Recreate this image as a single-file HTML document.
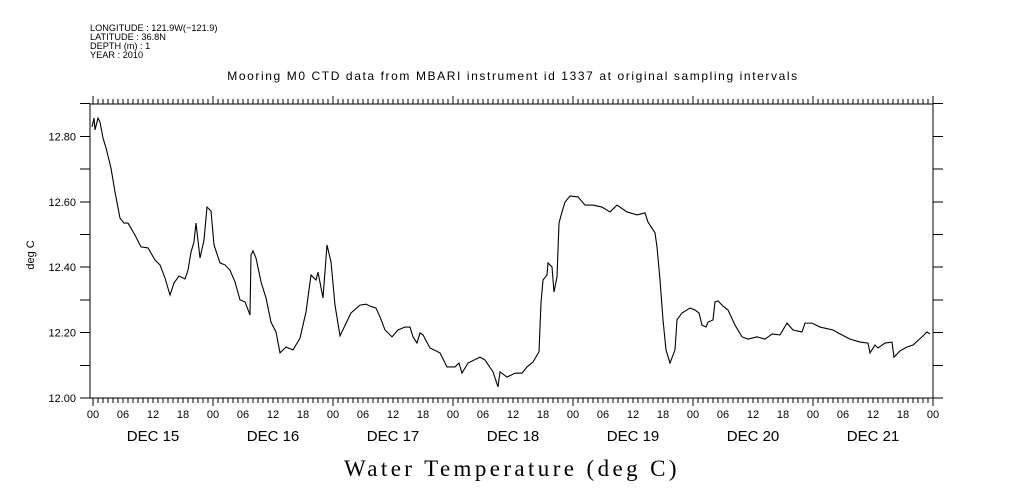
<!DOCTYPE html>
<html><head><meta charset="utf-8"><style>
body{margin:0;background:#fff;}
svg{display:block;font-family:"Liberation Sans",sans-serif;}
</style></head><body>
<svg id="chart" width="1009" height="504" viewBox="0 0 1009 504">
<g font-size="9.2" fill="#000">
<text x="90" y="31">LONGITUDE : 121.9W(−121.9)</text>
<text x="90" y="40">LATITUDE : 36.8N</text>
<text x="90" y="49">DEPTH (m) : 1</text>
<text x="90" y="58">YEAR : 2010</text>
</g>
<text x="513" y="80" text-anchor="middle" font-size="12" letter-spacing="1.6">Mooring M0 CTD data from MBARI instrument id 1337 at original sampling intervals</text>
<text transform="translate(34,255) rotate(-90)" text-anchor="middle" font-size="11">deg C</text>
<text x="512" y="476" text-anchor="middle" font-size="23" letter-spacing="3.4" font-family="Liberation Serif, serif">Water Temperature (deg C)</text>
<g id="axes"></g>
<g id="series"></g>
</svg>
<script>
// hours since Dec 15 00:00
const hours=[-0.2,0.2,0.4,1.0,1.4,2.0,2.6,3.6,4.4,5.4,6.2,7.0,8.4,9.6,11.0,12.4,13.4,14.4,15.4,16.2,17.2,18.4,19.0,19.6,20.2,20.6,21.4,22.2,22.8,23.6,24.2,25.4,26.4,27.4,28.4,29.4,30.4,31.4,31.6,32.0,32.6,33.6,34.6,35.6,36.6,37.4,38.6,40.0,41.4,42.6,43.6,44.6,45.0,46.0,46.8,47.6,48.4,49.4,51.6,53.4,54.6,55.4,56.6,57.4,58.4,59.8,61.0,62.4,63.4,64.0,64.8,65.4,66.0,67.4,69.4,70.8,72.4,73.2,73.8,75.0,77.4,78.4,80.0,81.0,81.4,82.8,84.4,85.8,86.8,88.0,89.2,89.6,90.0,90.8,91.0,91.8,92.2,92.8,93.2,93.8,94.4,95.4,97.0,98.4,100.0,101.8,103.4,104.8,106.8,108.8,110.4,111.0,112.4,112.8,113.4,114.0,114.6,115.4,116.4,116.8,117.8,119.4,120.4,121.2,121.8,122.6,123.0,124.0,124.4,125.0,126.0,127.0,128.4,129.8,131.0,132.8,134.4,135.8,137.4,138.8,140.0,141.8,142.4,143.8,145.4,148.0,149.4,151.4,153.4,155.0,155.4,156.4,157.0,158.4,159.8,160.2,161.4,162.8,164.0,165.8,166.8,167.4];
const temps=[12.829,12.856,12.820,12.856,12.844,12.795,12.765,12.703,12.630,12.550,12.535,12.535,12.498,12.462,12.459,12.422,12.407,12.367,12.315,12.352,12.373,12.364,12.391,12.446,12.477,12.535,12.428,12.483,12.584,12.572,12.468,12.413,12.407,12.391,12.355,12.300,12.294,12.254,12.437,12.450,12.428,12.355,12.306,12.232,12.202,12.138,12.156,12.147,12.183,12.263,12.376,12.361,12.385,12.306,12.468,12.416,12.284,12.190,12.260,12.284,12.287,12.281,12.275,12.248,12.208,12.187,12.208,12.217,12.217,12.187,12.168,12.199,12.193,12.153,12.138,12.095,12.095,12.107,12.076,12.107,12.125,12.116,12.080,12.034,12.080,12.064,12.076,12.076,12.095,12.110,12.141,12.291,12.361,12.376,12.413,12.401,12.324,12.370,12.535,12.569,12.599,12.618,12.615,12.590,12.590,12.584,12.569,12.590,12.569,12.560,12.566,12.538,12.505,12.462,12.361,12.239,12.147,12.107,12.147,12.239,12.260,12.275,12.269,12.260,12.223,12.217,12.232,12.239,12.294,12.297,12.281,12.269,12.223,12.187,12.180,12.187,12.180,12.196,12.193,12.229,12.208,12.202,12.229,12.229,12.217,12.208,12.196,12.180,12.171,12.168,12.138,12.162,12.153,12.168,12.171,12.125,12.144,12.156,12.162,12.187,12.202,12.196];
const yTicks=[12.00,12.20,12.40,12.60,12.80];
const yTickLabels=["12.00","12.20","12.40","12.60","12.80"];
const hourLabels=["00","06","12","18"];
const dayLabels=["DEC 15","DEC 16","DEC 17","DEC 18","DEC 19","DEC 20","DEC 21"];

const NS="http://www.w3.org/2000/svg";
const L=90,R=933,T=104,B=398;
const X=h=>93+h*5;
const Y=v=>B-(v-12)*327;
const ax=document.getElementById('axes');
function mk(t,a,p){const e=document.createElementNS(NS,t);for(const k in a)e.setAttribute(k,a[k]);(p||ax).appendChild(e);return e;}
function ln(x1,y1,x2,y2){return mk('line',{x1,y1,x2,y2,stroke:'#000','stroke-width':1,'shape-rendering':'crispEdges'});}
const frame=mk('rect',{x:L,y:T,width:R-L,height:B-T,fill:'none',stroke:'#000','stroke-width':1,'shape-rendering':'crispEdges'});


for(let i=0;i<=9;i++){const y=Y(12+i*0.1);
  const a=ln(L-10,y,L,y);
  const b=ln(R,y,R+10,y);}
yTicks.forEach((v,i)=>{const t=mk('text',{x:L-14,y:Y(v)+4,'text-anchor':'end','font-size':11});t.textContent=yTickLabels[i];
  });
for(let h=0;h<=168;h++){const x=X(h);const major=h%24===0,mid=h%6===0;
  const a=ln(x,B,x,B+(major?8:5));
  const b=ln(x,T,x,T-(major?8:5));
  if(mid){const t=mk('text',{x:x,y:418,'text-anchor':'middle','font-size':11});t.textContent=hourLabels[(h/6)%4];
    }}
dayLabels.forEach((d,i)=>{const t=mk('text',{x:X(i*24+12),y:441,'text-anchor':'middle','font-size':15});t.textContent=d;
  });
const s=document.getElementById('series');
const p=mk('polyline',{points:hours.map((h,i)=>X(h)+','+Y(temps[i])).join(' '),fill:'none',stroke:'#000','stroke-width':1.1},s);


</script>
</body></html>
